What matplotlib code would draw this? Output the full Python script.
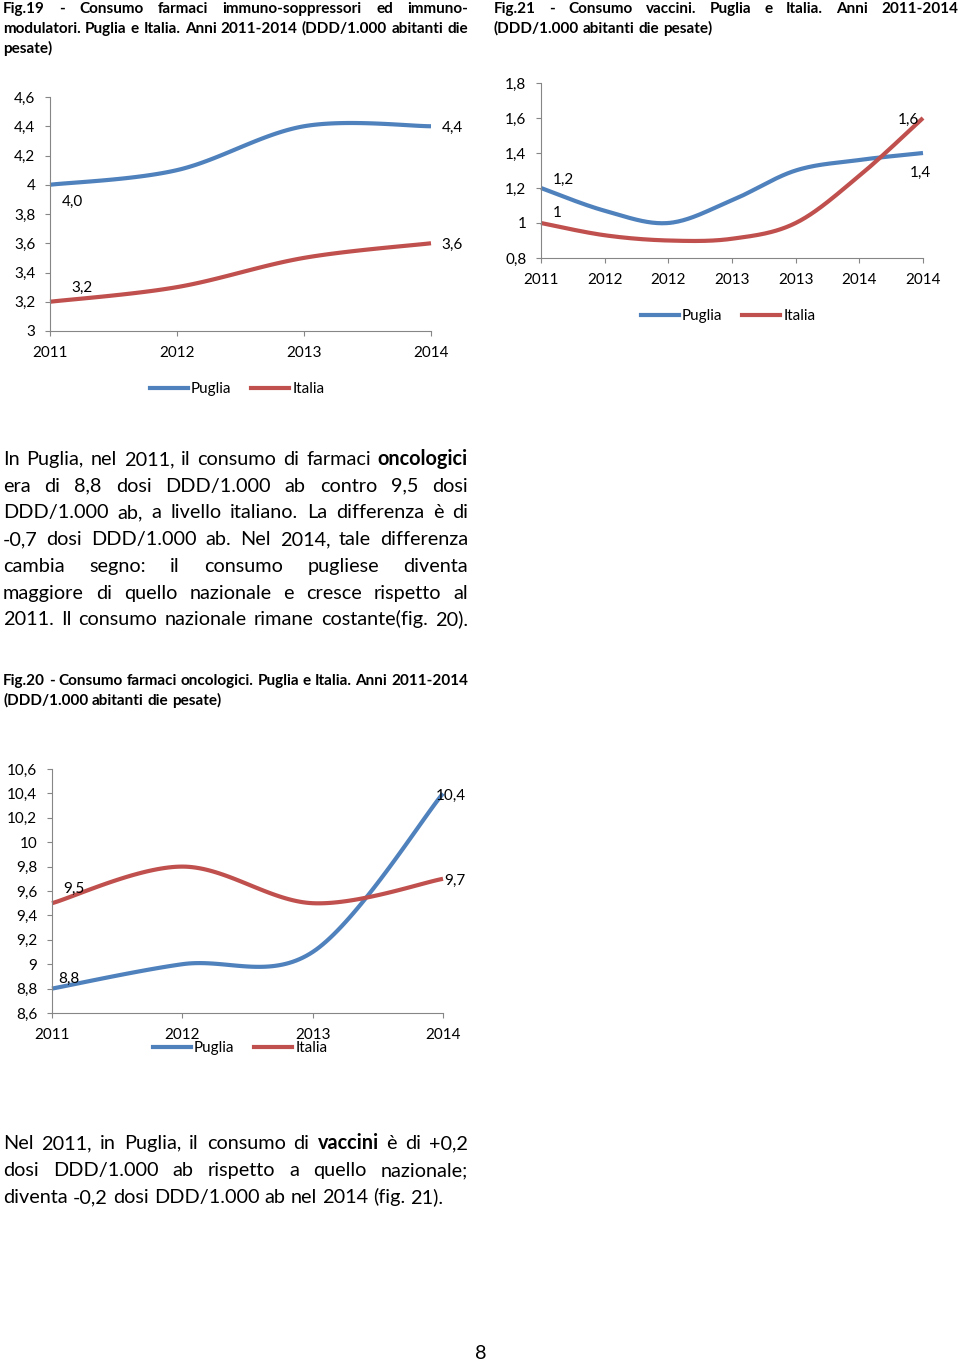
import matplotlib
matplotlib.use('Agg')
import matplotlib.pyplot as plt
from matplotlib.lines import Line2D
import numpy as np

plt.rcParams['font.family'] = ['Lato', 'DejaVu Sans']

W, H = 960, 1363
BLUE = '#4F81BD'
RED = '#C0504D'
AXIS = '#868686'

# Fig.19 - immuno-soppressori / immuno-modulatori
years19 = ['2011', '2012', '2013', '2014']
puglia19 = [4.0, 4.1, 4.4, 4.4]
italia19 = [3.2, 3.3, 3.5, 3.6]

# Fig.21 - vaccini (7 categorie sull'asse)
years21 = ['2011', '2012', '2012', '2013', '2013', '2014', '2014']
puglia21 = [1.2, 1.07, 1.0, 1.13, 1.3, 1.36, 1.4]
italia21 = [1.0, 0.93, 0.9, 0.91, 1.0, 1.27, 1.6]

# Fig.20 - oncologici
years20 = ['2011', '2012', '2013', '2014']
puglia20 = [8.8, 9.0, 9.1, 10.4]
italia20 = [9.5, 9.8, 9.5, 9.7]

fig = plt.figure(figsize=(W / 100, H / 100), dpi=100)
fig.patch.set_facecolor('white')

FS = 11  # chart text size


def smooth(vals, n=40):
    # Excel style smoothed line: Catmull-Rom through the points
    y = np.array(vals, float)
    x = np.arange(len(y), dtype=float)
    t = np.linspace(0, 1, n)
    h00 = 2 * t**3 - 3 * t**2 + 1
    h10 = t**3 - 2 * t**2 + t
    h01 = -2 * t**3 + 3 * t**2
    h11 = t**3 - t**2
    out = []
    for arr in (x, y):
        a = np.concatenate([[arr[0]], arr, [arr[-1]]])
        seg = []
        for i in range(1, len(a) - 2):
            m1 = (a[i + 1] - a[i - 1]) / 2
            m2 = (a[i + 2] - a[i]) / 2
            seg.append(h00 * a[i] + h10 * m1 + h01 * a[i + 1] + h11 * m2)
        out.append(np.concatenate(seg))
    return out


def px_axes(l, t, r, b):
    return fig.add_axes([l / W, 1 - b / H, (r - l) / W, (b - t) / H])


def fmt(v):
    return f'{round(v, 1):g}'.replace('.', ',')


def fmt1(v):
    return f'{v:.1f}'.replace('.', ',')


def chart(ax, cats, pug, ita, ylo, yhi, labels, leg_xy, lab_fmt=fmt):
    for vals, col, name in ((pug, BLUE, 'Puglia'), (ita, RED, 'Italia')):
        sx, sy = smooth(vals)
        ax.plot(sx, sy, color=col, lw=3, solid_capstyle='butt', clip_on=False, label=name)
    ax.set_xlim(0, len(cats) - 1)
    ax.set_ylim(ylo, yhi)
    ax.set_xticks(range(len(cats)))
    ax.set_xticklabels(cats)
    yt = np.arange(ylo, yhi + 0.1, 0.2)
    ax.set_yticks(yt)
    ax.set_yticklabels([fmt(v) for v in yt])
    for s in ('top', 'right'):
        ax.spines[s].set_visible(False)
    for s in ('left', 'bottom'):
        ax.spines[s].set_color(AXIS)
        ax.spines[s].set_linewidth(0.8)
    ax.tick_params(color=AXIS, labelcolor='black', length=3.6, width=0.8, labelsize=FS)
    ax.tick_params(axis='y', pad=7)
    ax.tick_params(axis='x', pad=7.5)
    ax.patch.set_alpha(0)
    # data labels: (series, index, dx, dy) in pixels
    for vals, i, dx, dy in labels:
        ax.annotate(lab_fmt(vals[i]), (i, vals[i]), xytext=(dx, dy - 2), textcoords='offset pixels',
                    ha='center', va='center', fontsize=FS, annotation_clip=False)
    handles = [Line2D([], [], color=BLUE, lw=3), Line2D([], [], color=RED, lw=3)]
    ax.legend(handles, ['Puglia', 'Italia'], loc='center',
              bbox_to_anchor=(leg_xy[0] / W, 1 - leg_xy[1] / H), bbox_transform=fig.transFigure,
              ncol=2, frameon=False, fontsize=FS, handlelength=2.5, handletextpad=0.2,
              columnspacing=1.3)


ax1 = px_axes(50, 97, 431, 331)
chart(ax1, years19, puglia19, italia19, 3.0, 4.6,
      [(puglia19, 0, 22, -15), (puglia19, 3, 21, 0), (italia19, 0, 32, 16), (italia19, 3, 21, 0)],
      (237, 389), lab_fmt=fmt1)

ax2 = px_axes(541, 83, 923, 258)
chart(ax2, years21, puglia21, italia21, 0.8, 1.8,
      [(puglia21, 0, 22, 10), (italia21, 0, 16, 12), (italia21, 6, -15, 0), (puglia21, 6, -3, -18)],
      (728, 316))

ax3 = px_axes(52, 769, 443, 1013)
chart(ax3, years20, puglia20, italia20, 8.6, 10.6,
      [(italia20, 0, 22, 16), (puglia20, 0, 17, 12), (puglia20, 3, 8, 0), (italia20, 3, 12, 0)],
      (240, 1048))

renderer = fig.canvas.get_renderer()


def paragraph(lines, x0, x1, base, lh, size, weight='normal', bold=(), justify_last=False):
    sp = fig.text(0, 0, 'a a', fontsize=size, fontweight=weight)
    nsp = fig.text(0, 0, 'aa', fontsize=size, fontweight=weight)
    space = sp.get_window_extent(renderer).width - nsp.get_window_extent(renderer).width
    sp.remove()
    nsp.remove()
    for k, line in enumerate(lines):
        words = line.split(' ')
        y = 1 - (base + k * lh) / H
        texts = []
        for w in words:
            wt = 'bold' if w in bold else weight
            texts.append(fig.text(0, y, w, fontsize=size, fontweight=wt, va='baseline', ha='left'))
        widths = [t.get_window_extent(renderer).width for t in texts]
        last = k == len(lines) - 1
        if len(words) > 1 and (not last or justify_last):
            gap = (x1 - x0 - sum(widths)) / (len(words) - 1)
        else:
            gap = space
        x = x0
        for t, w in zip(texts, widths):
            t.set_x(x / W)
            x += w + gap


paragraph(['Fig.19 - Consumo farmaci immuno-soppressori ed immuno-',
           'modulatori. Puglia e Italia. Anni 2011-2014 (DDD/1.000 abitanti die',
           'pesate)'], 3, 468, 12.7, 20, 11, weight='bold')

paragraph(['Fig.21 - Consumo vaccini. Puglia e Italia. Anni 2011-2014',
           '(DDD/1.000 abitanti die pesate)'], 494, 958, 12.7, 20, 11, weight='bold')

paragraph(['In Puglia, nel 2011, il consumo di farmaci oncologici',
           'era di 8,8 dosi DDD/1.000 ab contro 9,5 dosi',
           'DDD/1.000 ab, a livello italiano. La differenza è di',
           '-0,7 dosi DDD/1.000 ab. Nel 2014, tale differenza',
           'cambia segno: il consumo pugliese diventa',
           'maggiore di quello nazionale e cresce rispetto al',
           '2011. Il consumo nazionale rimane costante(fig. 20).'],
          3, 468, 465, 26.7, 14.3, bold=('oncologici',), justify_last=True)

paragraph(['Fig.20 - Consumo farmaci oncologici. Puglia e Italia. Anni 2011-2014',
           '(DDD/1.000 abitanti die pesate)'], 3, 468, 685, 20, 11, weight='bold')

paragraph(['Nel 2011, in Puglia, il consumo di vaccini è di +0,2',
           'dosi DDD/1.000 ab rispetto a quello nazionale;',
           'diventa -0,2 dosi DDD/1.000 ab nel 2014 (fig. 21).'],
          3, 468, 1149, 27, 14.3, bold=('vaccini',))

fig.text(481 / W, 1 - 1359 / H, '8', fontsize=14.3, ha='center', va='baseline')

fig.savefig('out.png', dpi=100)
